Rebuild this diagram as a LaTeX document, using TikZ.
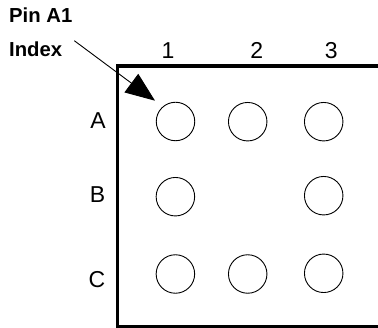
\documentclass[tikz,border=0pt]{standalone}
\usepackage{fontspec}
\setmainfont{Liberation Sans}
\usetikzlibrary{arrows.meta}
\tikzset{
  pinball/.style={draw=black,circle,line width=0.9pt,minimum size=38.5pt,inner sep=0pt,outer sep=0pt},
  gridlabel/.style={inner sep=0pt,anchor=base,font=\fontsize{23}{25}\selectfont},
  titlelabel/.style={inner sep=0pt,anchor=base west,font=\bfseries\fontsize{20.3}{22}\selectfont},
  framebar/.style={line width=3.2pt,line cap=butt,line join=miter},
  indexarrow/.style={line width=0.9pt,-{Triangle[length=29.5pt,width=23pt]}}
}
\begin{document}
\begin{tikzpicture}[x=1pt,y=-1pt]
\useasboundingbox (0,0) rectangle (378,328);
\coordinate (frameBL) at (378,326.8);
\coordinate (frameCornerB) at (117.8,326.8);
\coordinate (frameCornerT) at (117.8,66);
\coordinate (frameTR) at (378,66);
\draw[framebar] (frameBL) -- (frameCornerB) -- (frameCornerT) -- (frameTR);
\node[pinball] (a1) at (175.5,121.5) {};
\node[pinball] (a2) at (247.7,121.7) {};
\node[pinball] (a3) at (323.7,121.7) {};
\node[pinball] (b1) at (175.4,196.7) {};
\node[pinball] (b3) at (323.7,195.7) {};
\node[pinball] (c1) at (175.4,274) {};
\node[pinball] (c2) at (247.7,274) {};
\node[pinball] (c3) at (323.7,273.3) {};
\node[gridlabel] (n1) at (168,59) {1};
\node[gridlabel] (n2) at (256.7,59) {2};
\node[gridlabel] (n3) at (331.3,59) {3};
\node[gridlabel] (la) at (98,128.3) {A};
\node[gridlabel] (lb) at (97.5,202.7) {B};
\node[gridlabel] (lc) at (97,287.2) {C};
\node[titlelabel] (pin) at (9,22.7) {Pin A1};
\node[titlelabel] (idx) at (9,57) {Index};
\coordinate (arrowStart) at (74.3,40.7);
\coordinate (arrowTip) at (155,100.7);
\draw[indexarrow] (arrowStart) -- (arrowTip);
\end{tikzpicture}
\end{document}
